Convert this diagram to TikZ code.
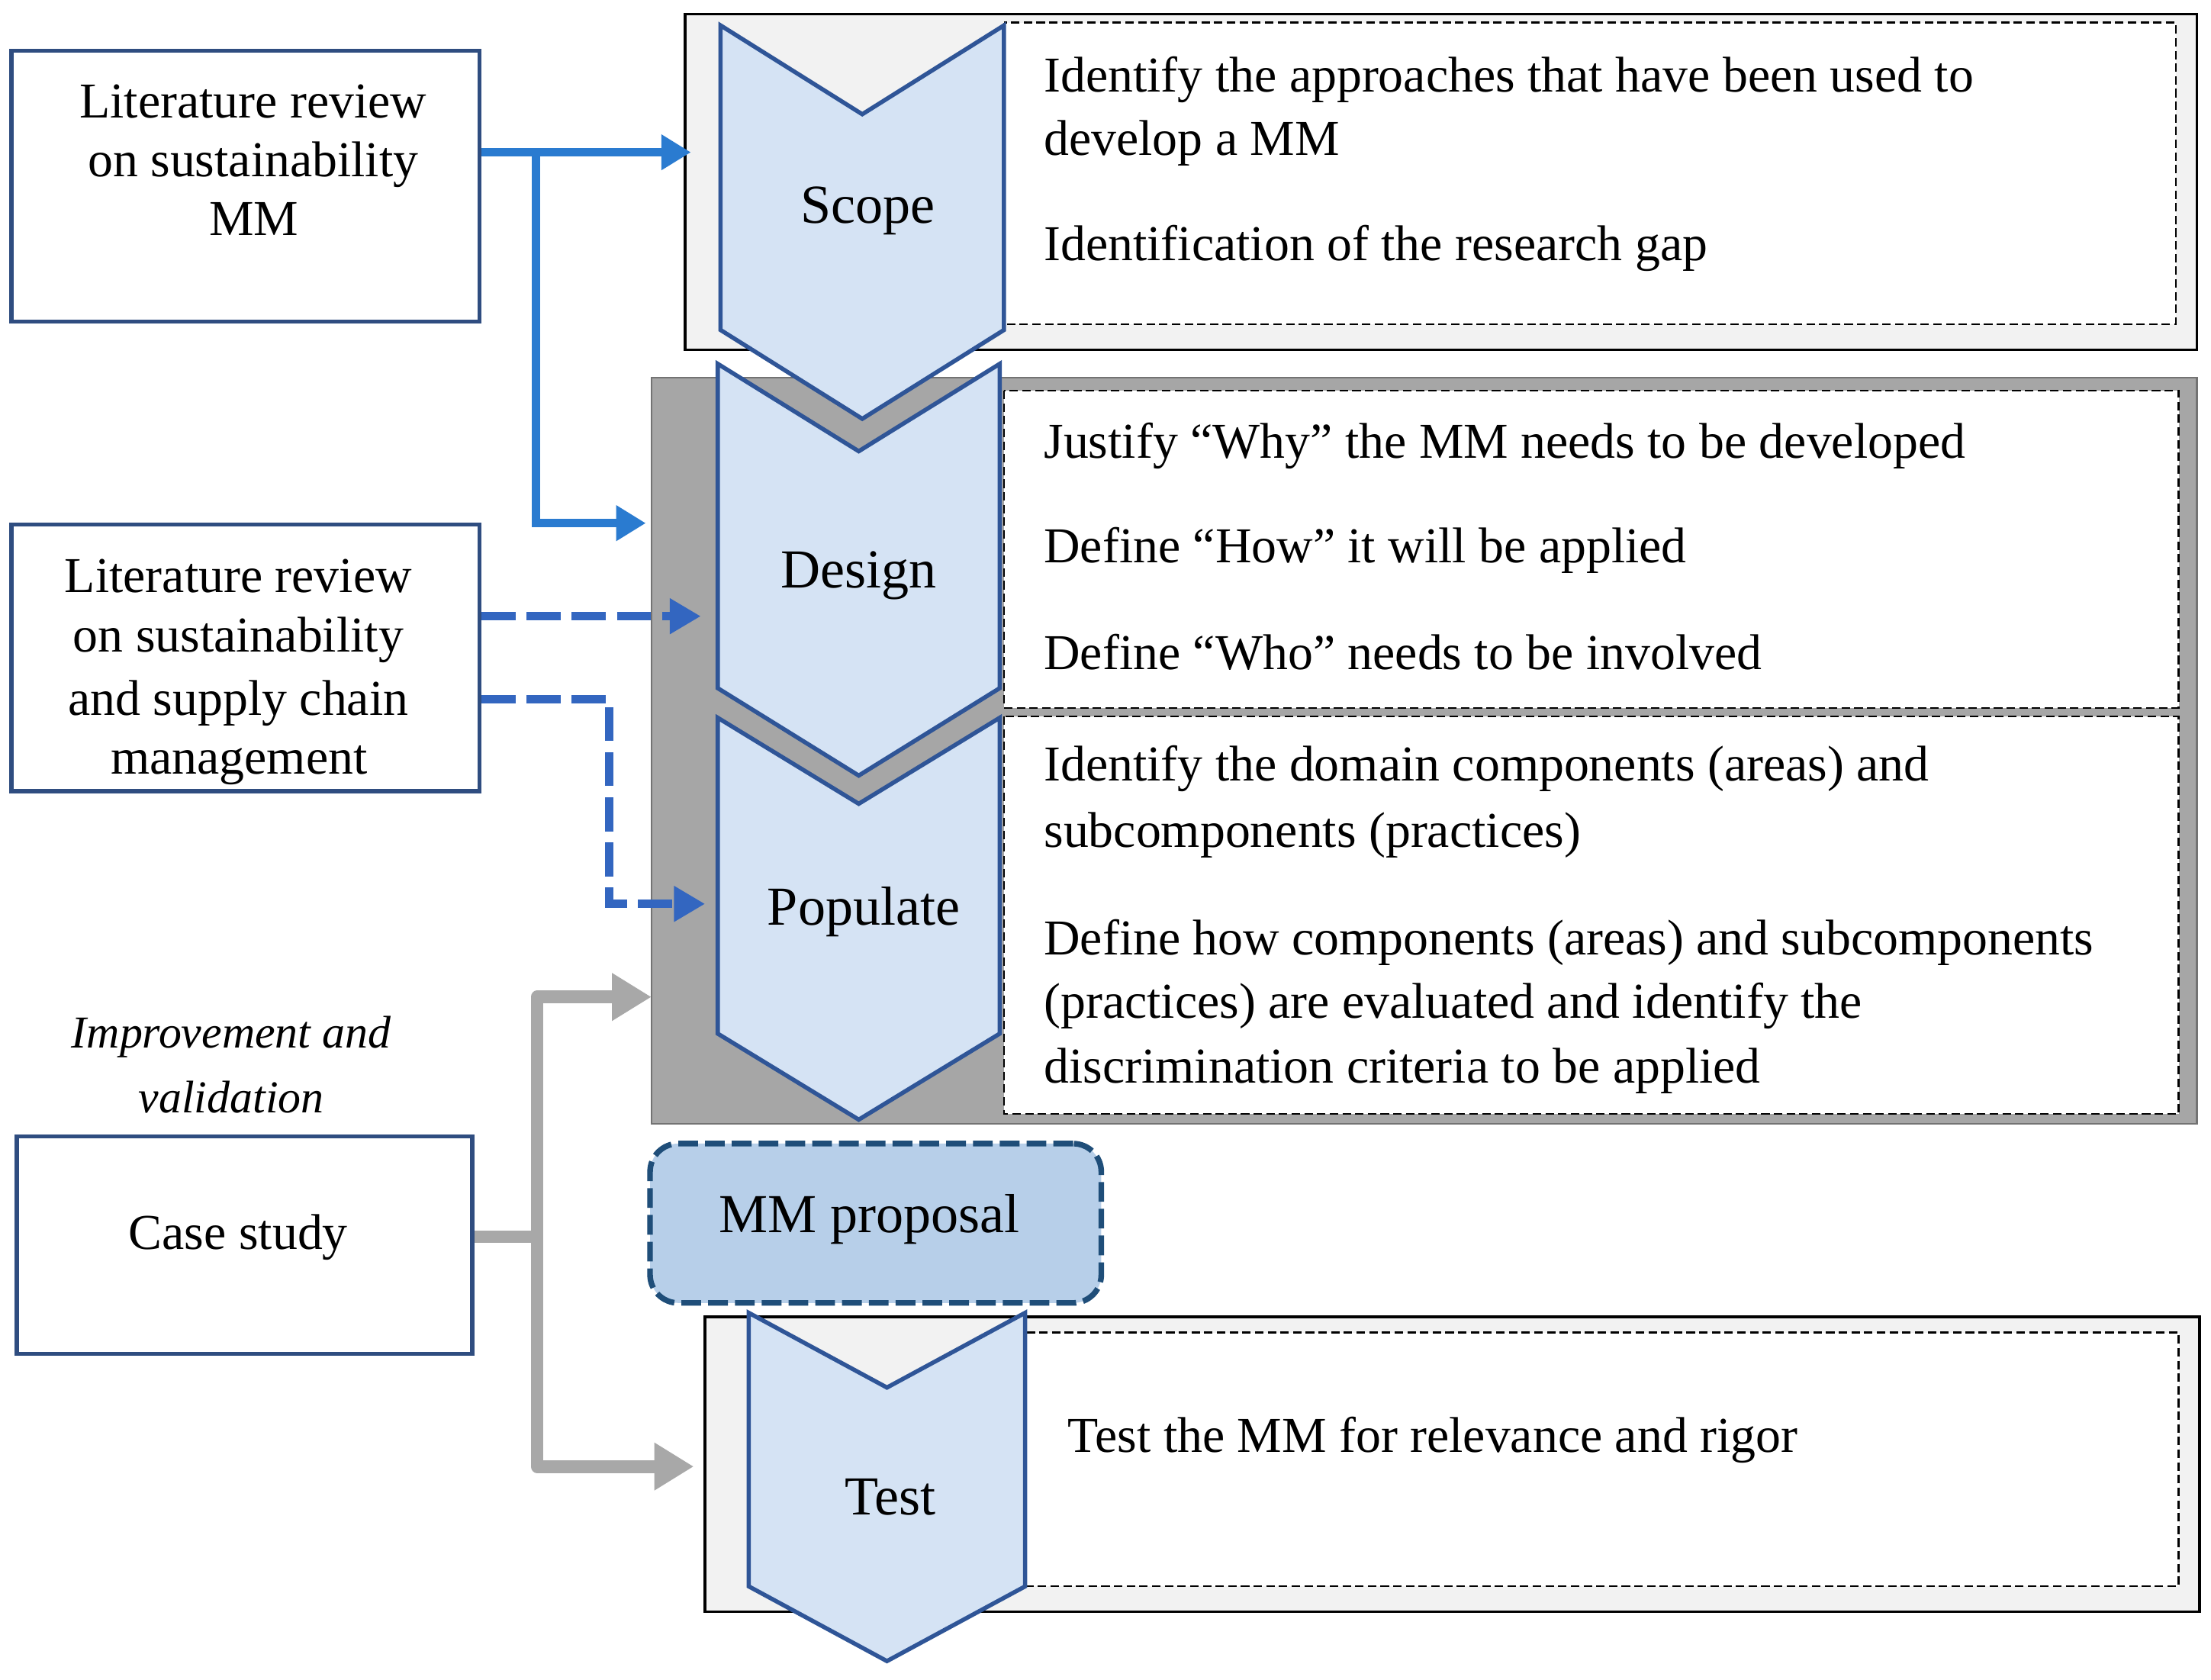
\documentclass[tikz,border=0pt]{standalone}
\usepackage{fontspec}
\setmainfont{Liberation Serif}
\usetikzlibrary{arrows.meta}
\definecolor{navy}{HTML}{2F4D80}
\definecolor{chevfill}{HTML}{D5E3F4}
\definecolor{chevline}{HTML}{2F5597}
\definecolor{arrblue}{HTML}{2A7BD0}
\definecolor{dashblue}{HTML}{3366C0}
\definecolor{graybg}{HTML}{A6A6A6}
\definecolor{grayarr}{HTML}{A8A8A8}
\definecolor{boxgray}{HTML}{F2F2F2}
\definecolor{propfill}{HTML}{B7CFE9}
\definecolor{propline}{HTML}{1F4E79}
\newcommand\mychev[5]{% x1 x2 top bottom depth
  \path[chev] (#1,#3) -- ({(#1+#2)/2},#3+#5) -- (#2,#3) -- (#2,#4) -- ({(#1+#2)/2},#4+#5) -- (#1,#4) -- cycle;}
\begin{document}
\begin{tikzpicture}[x=0.5pt,y=-0.5pt,
  srcbox/.style={draw=navy, line width=1.5pt, fill=white, inner sep=0pt},
  chev/.style={draw=chevline, line width=1.5pt, fill=chevfill, line join=miter},
  dashbox/.style={draw=black, dash pattern=on 3pt off 1.5pt, line width=0.6pt, fill=white},
  outerbox/.style={draw=black, line width=1pt, fill=boxgray},
  body/.style={font=\fontsize{17.8}{21}\selectfont, anchor=base west, inner sep=0pt},
  leftt/.style={font=\fontsize{17.8}{21}\selectfont, anchor=base, inner sep=0pt},
  itxt/.style={font=\fontsize{16.2}{20}\selectfont\itshape, anchor=base, inner sep=0pt},
  steplabel/.style={font=\fontsize{19.5}{23}\selectfont, anchor=base, inner sep=0pt},
  solidarrow/.style={draw=arrblue, line width=3pt, -{Triangle[length=10.5pt,width=12pt]}},
  solidline/.style={draw=arrblue, line width=3pt},
  dasharrow/.style={draw=dashblue, line width=3pt, dash pattern=on 12pt off 4pt, -{Triangle[length=11pt,width=12pt]}},
  grayarrow/.style={draw=grayarr, line width=4.5pt, line join=round, -{Triangle[length=14pt,width=16pt]}},
  grayline/.style={draw=grayarr, line width=4.5pt}
]
\useasboundingbox (0,0) rectangle (1568,1191);
\fill[white] (0,0) rectangle (1568,1191);

% Scope frame
\path[outerbox] (486,10) rectangle (1558,248);
\path[dashbox] (712,16) rectangle (1543,230);
% Design / Populate frame
\path[fill=graybg, draw=gray!90!black, line width=0.6pt] (462,268) rectangle (1558,797);
\path[dashbox] (712,277) rectangle (1545,502);
\path[dashbox] (712,508) rectangle (1545,790);
% Test frame
\path[outerbox] (500,934) rectangle (1560,1143);
\path[dashbox] (727,945) rectangle (1545,1125);

% chevrons
\mychev{509}{709}{509}{733}{61}
\mychev{509}{709}{258}{488}{62}
\mychev{511}{712}{18}{234}{63}
\mychev{531}{727}{931}{1125}{53}

\node[steplabel] (lscope) at (615.5,158) {Scope};
\node[steplabel] (ldesign) at (609,417) {Design};
\node[steplabel] (lpop) at (612.5,656) {Populate};
\node[steplabel] (ltest) at (631.5,1074) {Test};

% MM proposal
\node[draw=propline, fill=propfill, line width=2pt, dash pattern=on 7pt off 2.5pt,
      rounded corners=10pt, minimum width=160pt, minimum height=56.5pt, inner sep=0pt]
      (prop) at (621,867.5) {};
\node[steplabel] (lprop) at (616.5,874) {MM proposal};

% right texts
\node[body] (s1) at (740,65) {Identify the approaches that have been used to};
\node[body] (s2) at (740,110) {develop a MM};
\node[body] (s3) at (740,185) {Identification of the research gap};
\node[body] (d1) at (740,325) {Justify “Why” the MM needs to be developed};
\node[body] (d2) at (740,399) {Define “How” it will be applied};
\node[body] (d3) at (740,475) {Define “Who” needs to be involved};
\node[body] (p1) at (740,554) {Identify the domain components (areas) and};
\node[body] (p2) at (740,601) {subcomponents (practices)};
\node[body] (p3) at (740,677) {Define how components (areas) and subcomponents};
\node[body] (p4) at (740,722) {(practices) are evaluated and identify the};
\node[body] (p5) at (740,768) {discrimination criteria to be applied};
\node[body] (t1) at (757,1030) {Test the MM for relevance and rigor};

% left boxes
\node[srcbox, minimum width=166pt, minimum height=96pt] (lit1) at (174,132) {};
\node[leftt] (a1) at (179.5,83.5) {Literature review};
\node[leftt] (a2) at (179.5,125) {on sustainability};
\node[leftt] (a3) at (180,167) {MM};

\node[srcbox, minimum width=166pt, minimum height=94.5pt] (lit2) at (174,466.5) {};
\node[leftt] (b1) at (169,420) {Literature review};
\node[leftt] (b2) at (169,462.5) {on sustainability};
\node[leftt] (b3) at (169,507) {and supply chain};
\node[leftt] (b4) at (169.5,549) {management};

\node[itxt] (i1) at (164,743) {Improvement and};
\node[itxt] (i2) at (164,789) {validation};

\node[srcbox, minimum width=161.5pt, minimum height=77pt] (case) at (173.5,883) {};
\node[leftt] (c1) at (169,886) {Case study};

% connector targets
\coordinate (scopein) at (490,108);
\coordinate (designin) at (458,371);
\coordinate (designin2) at (497,437);
\coordinate (popin) at (500,641);
\coordinate (popin2) at (462,707);
\coordinate (testin) at (492,1040);
\coordinate (j1) at (380,108);
\coordinate (j2) at (432,496);
\coordinate (j3) at (381,877);

% connectors
\draw[solidarrow] (lit1.east |- scopein) -- (scopein);
\draw[solidarrow] (j1) |- (designin);
\draw[dasharrow] (lit2.east |- designin2) -- (designin2);
\draw[dasharrow] (lit2.east |- j2) -- (j2) |- (popin);
\draw[grayline] (case.east |- j3) -- (j3);
\draw[grayarrow] (j3) |- (popin2);
\draw[grayarrow] (j3) |- (testin);
\end{tikzpicture}
\end{document}
